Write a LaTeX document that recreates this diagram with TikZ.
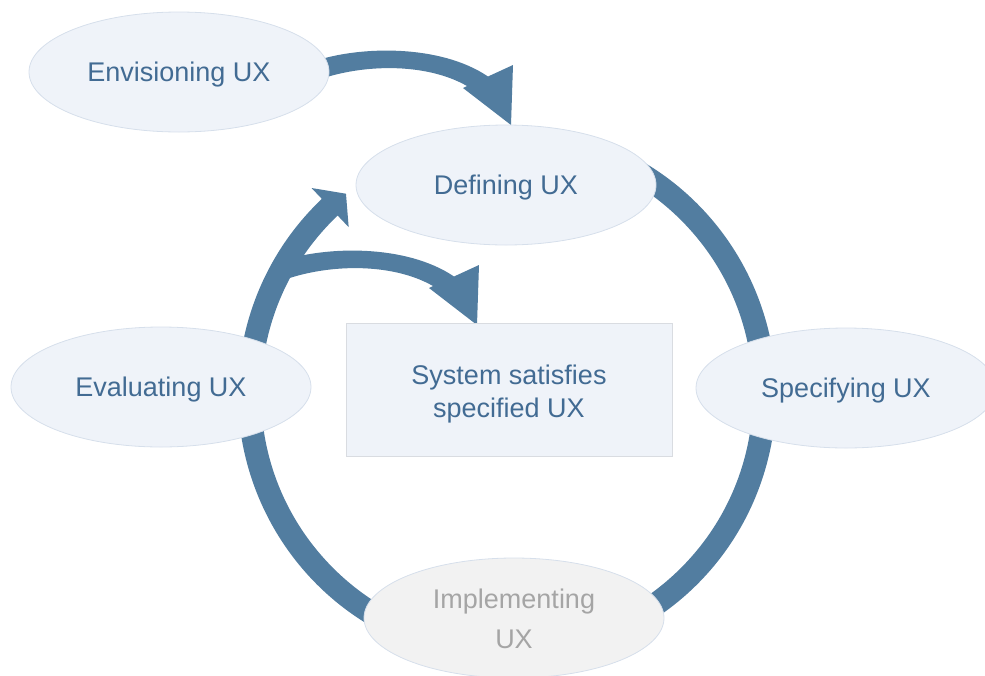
\documentclass[tikz,border=0pt]{standalone}
\usepackage{fontspec}
\setmainfont{Liberation Sans}
\usetikzlibrary{shapes.geometric}

\definecolor{flowblue}{HTML}{527DA0}
\definecolor{stagefill}{HTML}{EFF3F9}
\definecolor{stageline}{HTML}{D6DFEB}
\definecolor{stagetext}{HTML}{426B93}
\definecolor{idlefill}{HTML}{F2F2F2}
\definecolor{idletext}{HTML}{A5A5A5}
\definecolor{boxline}{HTML}{D9DCE1}

\begin{document}
\begin{tikzpicture}[x=1pt,y=-1pt,
  stage/.style={ellipse, draw=stageline, line width=0.8pt, fill=stagefill,
    minimum width=300pt, minimum height=120pt, inner sep=0pt,
    text=stagetext, align=center, font=\fontsize{27}{32}\selectfont,
    text height=19.5pt, text depth=0pt},
  idlestage/.style={stage, fill=idlefill, text=idletext,
    font=\fontsize{27}{40}\selectfont, text height=60.5pt},
  goalbox/.style={rectangle, draw=boxline, line width=0.8pt, fill=stagefill,
    minimum width=326pt, minimum height=133pt, inner sep=0pt,
    text=stagetext, align=center, font=\fontsize{27}{33}\selectfont,
    text height=55pt, text depth=0pt},
  flow/.style={fill=flowblue, draw=none}]

\clip (0,0) rectangle (985,675);

% centre of the main cycle
\coordinate (ctr) at (507,394);

% main cycle: thick ring ending in an arrowhead at the upper left
\fill[flow] ([shift={(ctr)}]-72:269) arc[start angle=-72, end angle=226.5, radius=269]
  -- ([shift={(ctr)}]226.5:284)
  -- ([shift={(ctr)}]231.2:257)
  -- ([shift={(ctr)}]226.5:230)
  -- ([shift={(ctr)}]226.5:246) arc[start angle=226.5, end angle=-72, radius=246]
  -- cycle;

% two bent block arrows of the same shape
\foreach \dx/\dy in {0/0, -34/200}{
  \begin{scope}[shift={(\dx,\dy)}]
    \fill[flow] (315,61) .. controls (360,46) and (440,44) .. (488,76.5)
      -- (513,65) -- (511,125) -- (463,88) -- (467,86)
      .. controls (425,62) and (360,64) .. (315,81) -- cycle;
  \end{scope}
}

% stages
\node[stage] (envision) at (179,72) {Envisioning UX};
\node[stage] (define) at (506,185) {Defining UX};
\node[stage] (specify) at (846,388) {Specifying UX};
\node[idlestage] (implement) at (514,618) {Implementing\\UX};
\node[stage] (evaluate) at (161,387) {Evaluating UX};
\node[goalbox] (goal) at (509,389.5) {System satisfies\\specified UX};

\end{tikzpicture}
\end{document}
